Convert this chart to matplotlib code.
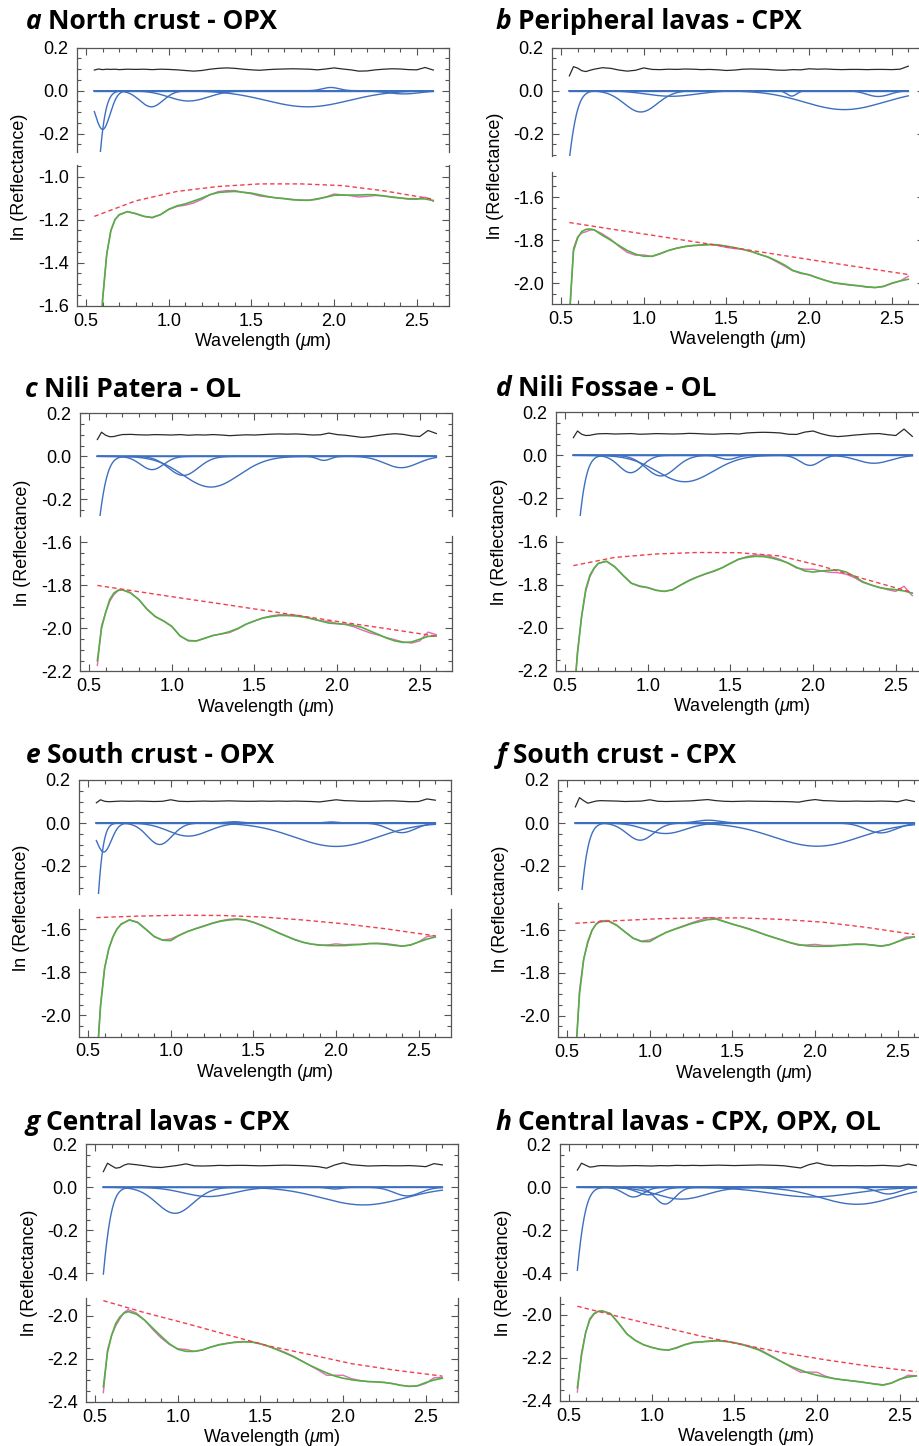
import matplotlib
matplotlib.use("Agg")
import matplotlib.pyplot as plt
import numpy as np
from matplotlib.ticker import MultipleLocator, FuncFormatter

plt.rc('font', family='Liberation Sans')
plt.rc('axes', unicode_minus=False)
plt.rc('mathtext', fontset='custom', rm='Liberation Sans',
       it='Liberation Sans:italic')

# ---------------------------------------------------------------- data
# sampling of the spectra (micrometres)
WL = [0.55, 0.575, 0.6, 0.625, 0.65, 0.675, 0.7, 0.75, 0.8, 0.85, 0.9, 0.95,
      1.0, 1.05, 1.1, 1.15, 1.2, 1.25, 1.3, 1.35, 1.4, 1.45, 1.5, 1.55, 1.6,
      1.65, 1.7, 1.75, 1.8, 1.85, 1.9, 1.95, 2.0, 2.05, 2.1, 2.15, 2.2, 2.25,
      2.3, 2.35, 2.4, 2.45, 2.5, 2.55, 2.6]
CONT_WL = [0.55, 0.8, 1.05, 1.3, 1.55, 1.8, 2.05, 2.3, 2.6]

LETTERS = ["a", "b", "c", "d", "e", "f", "g", "h"]
TITLES = ["North crust - OPX", "Peripheral lavas - CPX", "Nili Patera - OL",
          "Nili Fossae - OL", "South crust - OPX", "South crust - CPX",
          "Central lavas - CPX", "Central lavas - CPX, OPX, OL"]

# modelled spectrum (green), ln(reflectance)
A_MODEL = [-2.3, -1.92, -1.57, -1.36, -1.25, -1.2, -1.177, -1.163, -1.172, -1.185,
           -1.19, -1.177, -1.152, -1.136, -1.127, -1.114, -1.1, -1.084, -1.074,
           -1.071, -1.069, -1.073, -1.077, -1.085, -1.093, -1.099, -1.103, -1.108,
           -1.11, -1.11, -1.103, -1.096, -1.087, -1.086, -1.086, -1.086, -1.084,
           -1.085, -1.09, -1.096, -1.1, -1.103, -1.103, -1.104, -1.111]
B_MODEL = [-2.15, -1.85, -1.79, -1.76, -1.75, -1.748, -1.752, -1.778, -1.8, -1.825,
           -1.848, -1.865, -1.875, -1.875, -1.862, -1.848, -1.837, -1.83, -1.825,
           -1.822, -1.82, -1.822, -1.828, -1.835, -1.843, -1.853, -1.866, -1.878,
           -1.895, -1.915, -1.94, -1.952, -1.962, -1.975, -1.988, -1.998, -2.003,
           -2.008, -2.012, -2.017, -2.02, -2.015, -2.0, -1.99, -1.982]
C_MODEL = [-2.15, -2.0, -1.925, -1.865, -1.835, -1.822, -1.82, -1.835, -1.865, -1.91,
           -1.945, -1.965, -1.99, -2.035, -2.056, -2.058, -2.045, -2.033, -2.025,
           -2.015, -2.0, -1.98, -1.965, -1.952, -1.945, -1.94, -1.94, -1.942, -1.947,
           -1.955, -1.965, -1.975, -1.978, -1.98, -1.985, -1.995, -2.012, -2.028,
           -2.045, -2.058, -2.065, -2.063, -2.05, -2.037, -2.035]
D_MODEL = [-2.35, -2.12, -1.945, -1.82, -1.755, -1.722, -1.7, -1.69, -1.715, -1.755,
           -1.792, -1.805, -1.812, -1.825, -1.83, -1.822, -1.8, -1.78, -1.763, -1.748,
           -1.735, -1.72, -1.7, -1.68, -1.672, -1.667, -1.668, -1.675, -1.685,
           -1.698, -1.718, -1.735, -1.74, -1.735, -1.732, -1.73, -1.74, -1.76, -1.785,
           -1.8, -1.812, -1.818, -1.822, -1.828, -1.838]
E_MODEL = [-2.25, -1.96, -1.78, -1.69, -1.635, -1.598, -1.576, -1.556, -1.568, -1.6,
           -1.633, -1.65, -1.652, -1.628, -1.61, -1.597, -1.585, -1.572, -1.562,
           -1.556, -1.553, -1.556, -1.567, -1.582, -1.598, -1.616, -1.632, -1.648,
           -1.66, -1.668, -1.672, -1.675, -1.675, -1.675, -1.672, -1.67, -1.666,
           -1.666, -1.669, -1.674, -1.678, -1.672, -1.658, -1.645, -1.635]
F_MODEL = [-2.2, -1.9, -1.74, -1.655, -1.603, -1.575, -1.562, -1.56, -1.58, -1.61,
           -1.64, -1.655, -1.655, -1.632, -1.612, -1.598, -1.585, -1.572, -1.562,
           -1.553, -1.55, -1.562, -1.574, -1.585, -1.597, -1.61, -1.624, -1.636,
           -1.648, -1.66, -1.669, -1.675, -1.677, -1.677, -1.676, -1.673, -1.67,
           -1.668, -1.668, -1.672, -1.677, -1.67, -1.655, -1.642, -1.633]
G_MODEL = [-2.33, -2.17, -2.09, -2.035, -2.005, -1.987, -1.98, -1.992, -2.02, -2.058,
           -2.095, -2.13, -2.155, -2.165, -2.165, -2.158, -2.145, -2.135, -2.128,
           -2.123, -2.121, -2.122, -2.13, -2.142, -2.157, -2.173, -2.19, -2.21, -2.23,
           -2.248, -2.265, -2.28, -2.29, -2.297, -2.302, -2.305, -2.307, -2.31,
           -2.315, -2.323, -2.328, -2.325, -2.31, -2.298, -2.29]
H_MODEL = [-2.34, -2.19, -2.085, -2.02, -1.995, -1.985, -1.983, -1.995, -2.04, -2.09,
           -2.12, -2.14, -2.152, -2.162, -2.165, -2.155, -2.14, -2.13, -2.127, -2.124,
           -2.122, -2.125, -2.131, -2.14, -2.152, -2.165, -2.185, -2.205, -2.225,
           -2.243, -2.258, -2.272, -2.282, -2.29, -2.297, -2.303, -2.307, -2.312,
           -2.317, -2.323, -2.328, -2.318, -2.3, -2.29, -2.285]

# residual (black), plotted with its +0.1 offset
A_RESID = [0.096, 0.101, 0.098, 0.1, 0.099, 0.1, 0.098, 0.1, 0.099, 0.1, 0.098, 0.1,
           0.099, 0.097, 0.094, 0.091, 0.094, 0.1, 0.104, 0.106, 0.104, 0.1, 0.097,
           0.095, 0.098, 0.1, 0.101, 0.102, 0.101, 0.1, 0.097, 0.101, 0.106, 0.101,
           0.097, 0.091, 0.092, 0.097, 0.1, 0.102, 0.101, 0.098, 0.097, 0.108, 0.096]
B_RESID = [0.069, 0.112, 0.105, 0.093, 0.089, 0.095, 0.1, 0.107, 0.104, 0.096, 0.091,
           0.095, 0.106, 0.099, 0.098, 0.1, 0.099, 0.101, 0.1, 0.098, 0.099, 0.097,
           0.094, 0.096, 0.1, 0.101, 0.1, 0.099, 0.096, 0.095, 0.098, 0.097, 0.102,
           0.1, 0.101, 0.099, 0.098, 0.099, 0.099, 0.098, 0.099, 0.099, 0.098, 0.1,
           0.114]
C_RESID = [0.078, 0.112, 0.098, 0.091, 0.092, 0.097, 0.101, 0.102, 0.1, 0.099, 0.101,
           0.1, 0.099, 0.101, 0.098, 0.1, 0.099, 0.101, 0.099, 0.096, 0.098, 0.1,
           0.099, 0.101, 0.103, 0.104, 0.103, 0.104, 0.102, 0.099, 0.1, 0.108, 0.101,
           0.098, 0.093, 0.088, 0.091, 0.097, 0.102, 0.105, 0.102, 0.095, 0.092,
           0.12, 0.106]
D_RESID = [0.082, 0.113, 0.098, 0.092, 0.093, 0.097, 0.1, 0.101, 0.099, 0.1, 0.101,
           0.098, 0.099, 0.101, 0.1, 0.099, 0.1, 0.102, 0.101, 0.099, 0.098, 0.1,
           0.101, 0.099, 0.104, 0.106, 0.107, 0.106, 0.104, 0.098, 0.097, 0.108,
           0.113, 0.1, 0.091, 0.087, 0.09, 0.094, 0.097, 0.1, 0.101, 0.096, 0.092,
           0.122, 0.088]
E_RESID = [0.094, 0.108, 0.101, 0.099, 0.1, 0.101, 0.102, 0.101, 0.102, 0.101, 0.1,
           0.101, 0.108, 0.101, 0.1, 0.101, 0.102, 0.101, 0.102, 0.103, 0.102, 0.101,
           0.101, 0.102, 0.101, 0.102, 0.101, 0.102, 0.101, 0.1, 0.098, 0.103, 0.108,
           0.104, 0.103, 0.101, 0.101, 0.102, 0.103, 0.103, 0.101, 0.099, 0.1, 0.112,
           0.106]
F_RESID = [0.075, 0.118, 0.104, 0.092, 0.097, 0.102, 0.104, 0.103, 0.102, 0.1, 0.101,
           0.102, 0.108, 0.101, 0.1, 0.101, 0.102, 0.103, 0.106, 0.109, 0.104, 0.101,
           0.1, 0.101, 0.102, 0.101, 0.101, 0.1, 0.1, 0.099, 0.097, 0.104, 0.109,
           0.104, 0.103, 0.101, 0.101, 0.102, 0.101, 0.101, 0.102, 0.101, 0.099,
           0.108, 0.1]
G_RESID = [0.073, 0.112, 0.1, 0.089, 0.092, 0.103, 0.109, 0.105, 0.1, 0.094, 0.092,
           0.097, 0.102, 0.109, 0.1, 0.099, 0.1, 0.102, 0.101, 0.102, 0.102, 0.101,
           0.1, 0.101, 0.102, 0.103, 0.102, 0.101, 0.099, 0.096, 0.089, 0.104, 0.114,
           0.105, 0.102, 0.099, 0.1, 0.101, 0.1, 0.1, 0.101, 0.099, 0.096, 0.11,
           0.104]
H_RESID = [0.08, 0.112, 0.103, 0.094, 0.096, 0.1, 0.101, 0.1, 0.099, 0.1, 0.101, 0.1,
           0.099, 0.101, 0.1, 0.102, 0.101, 0.102, 0.101, 0.102, 0.103, 0.102, 0.101,
           0.102, 0.103, 0.104, 0.103, 0.102, 0.1, 0.095, 0.09, 0.105, 0.114, 0.104,
           0.1, 0.101, 0.1, 0.101, 0.1, 0.101, 0.102, 0.1, 0.098, 0.108, 0.101]

# continuum (red dashed) at CONT_WL
A_CONT = [-1.185, -1.113, -1.069, -1.046, -1.034, -1.034, -1.042, -1.066, -1.105]
B_CONT = [-1.718, -1.748, -1.777, -1.807, -1.836, -1.866, -1.896, -1.925, -1.96]
C_CONT = [-1.8, -1.829, -1.858, -1.886, -1.915, -1.944, -1.973, -2.001, -2.036]
D_CONT = [-1.71, -1.672, -1.656, -1.649, -1.65, -1.665, -1.712, -1.77, -1.835]
E_CONT = [-1.545, -1.538, -1.534, -1.535, -1.542, -1.556, -1.574, -1.597, -1.63]
F_CONT = [-1.57, -1.558, -1.549, -1.545, -1.545, -1.552, -1.565, -1.588, -1.622]
G_CONT = [-1.929, -1.985, -2.035, -2.088, -2.14, -2.18, -2.222, -2.251, -2.28]
H_CONT = [-1.961, -2.009, -2.055, -2.1, -2.14, -2.178, -2.21, -2.238, -2.265]

# absorption bands (blue): centre, width (sigma), strength
A_BAND_C = [0.45, 0.6, 0.895, 1.12, 1.84, 1.98, 2.42]
A_BAND_W = [0.0668, 0.045, 0.07, 0.12, 0.25, 0.05, 0.1]
A_BAND_S = [-2.3, -0.18, -0.075, -0.048, -0.075, 0.015, -0.015]
B_BAND_C = [0.45, 0.982, 1.167, 1.895, 2.213, 2.418]
B_BAND_W = [0.07, 0.1, 0.15, 0.03, 0.24, 0.07]
B_BAND_S = [-0.88, -0.099, -0.026, -0.025, -0.088, -0.027]
C_BAND_C = [0.46, 0.881, 1.07, 1.237, 1.92, 2.388]
C_BAND_W = [0.07, 0.07, 0.09, 0.17, 0.04, 0.1]
C_BAND_S = [-0.87, -0.062, -0.089, -0.143, -0.019, -0.053]
D_BAND_C = [0.47, 0.896, 1.079, 1.225, 1.485, 1.982, 2.368]
D_BAND_W = [0.07, 0.07, 0.09, 0.17, 0.05, 0.06, 0.1]
D_BAND_S = [-1.26, -0.081, -0.096, -0.123, -0.019, -0.047, -0.037]
E_BAND_C = [0.46, 0.595, 0.933, 1.106, 1.38, 1.97, 2.0, 2.398]
E_BAND_W = [0.055, 0.045, 0.075, 0.12, 0.05, 0.04, 0.25, 0.08]
E_BAND_S = [-1.89, -0.135, -0.1, -0.061, 0.006, 0.005, -0.109, -0.045]
F_BAND_C = [0.47, 0.942, 1.095, 1.355, 2.011, 2.398]
F_BAND_W = [0.07, 0.08, 0.12, 0.07, 0.26, 0.09]
F_BAND_S = [-1.36, -0.08, -0.049, 0.013, -0.108, -0.046]
G_BAND_C = [0.45, 0.983, 1.186, 1.95, 2.123, 2.388]
G_BAND_W = [0.07, 0.11, 0.15, 0.04, 0.25, 0.08]
G_BAND_S = [-1.12, -0.121, -0.043, -0.008, -0.082, -0.04]
H_BAND_C = [0.45, 0.89, 0.98, 1.08, 1.18, 1.97, 2.24, 2.43]
H_BAND_W = [0.07, 0.06, 0.07, 0.06, 0.15, 0.25, 0.22, 0.07]
H_BAND_S = [-1.07, -0.045, -0.035, -0.078, -0.055, -0.045, -0.079, -0.031]

MODELS = [A_MODEL, B_MODEL, C_MODEL, D_MODEL, E_MODEL, F_MODEL, G_MODEL, H_MODEL]
RESIDS = [A_RESID, B_RESID, C_RESID, D_RESID, E_RESID, F_RESID, G_RESID, H_RESID]
CONTS = [A_CONT, B_CONT, C_CONT, D_CONT, E_CONT, F_CONT, G_CONT, H_CONT]
BANDS = [(A_BAND_C, A_BAND_W, A_BAND_S), (B_BAND_C, B_BAND_W, B_BAND_S),
         (C_BAND_C, C_BAND_W, C_BAND_S), (D_BAND_C, D_BAND_W, D_BAND_S),
         (E_BAND_C, E_BAND_W, E_BAND_S), (F_BAND_C, F_BAND_W, F_BAND_S),
         (G_BAND_C, G_BAND_W, G_BAND_S), (H_BAND_C, H_BAND_W, H_BAND_S)]

# ---------------------------------------------------------------- layout
W, H = 919, 1446
PANEL_W = 372          # frame width in px
PPU = 215              # px per unit of ln(reflectance)
XLIM = (0.445, 2.695)

# left px, top px, gap between the two halves px
LAYOUT = [(77, 47.7, 13), (552, 47.7, 15.5),
          (80, 413.3, 19.5), (556, 412.3, 20),
          (79, 780, 15.5), (558, 780, 13),
          (86, 1144.3, 18.3), (560, 1144.3, 17.7)]
TOP_YLIM = [(-0.285, 0.2), (-0.305, 0.2), (-0.279, 0.2), (-0.283, 0.2),
            (-0.328, 0.2), (-0.313, 0.2), (-0.431, 0.2), (-0.43, 0.2)]
BOT_YLIM = [(-1.6, -0.946), (-2.097, -1.482), (-2.2, -1.569), (-2.2, -1.573),
            (-2.098, -1.505), (-2.1, -1.477), (-2.4, -1.918), (-2.4, -1.92)]
# title letter x px, baseline px
TITLE_POS = [(25.7, 29.3), (496, 29.3), (25, 396.7), (496, 396),
             (26, 762.7), (496.7, 762.7), (25, 1130), (496, 1130)]

BLUE = '#3d6fc0'
GREEN = '#52b043'
MAGENTA = '#e468b8'
RED = '#f0404e'
BLACK = '#2a2a2a'
FRAME = '#555555'
TICK_SIZE = 13
TITLE_FONT = 'Open Sans'
TITLE_SIZE = 19


def box(left, top, width, height):
    return [left / W, 1 - (top + height) / H, width / W, height / H]


def fmt(v, pos):
    return "{:.1f}".format(v).replace("-0.0", "0.0")


def style_axis(ax, top_half):
    for sp in ax.spines.values():
        sp.set_color(FRAME)
        sp.set_linewidth(0.9)
    if top_half:
        ax.spines['bottom'].set_visible(False)
    else:
        ax.spines['top'].set_visible(False)
    ax.set_xlim(*XLIM)
    ax.xaxis.set_major_locator(MultipleLocator(0.5))
    ax.xaxis.set_minor_locator(MultipleLocator(0.1))
    ax.yaxis.set_major_locator(MultipleLocator(0.2))
    ax.yaxis.set_minor_locator(MultipleLocator(0.05))
    ax.xaxis.set_major_formatter(FuncFormatter(fmt))
    ax.yaxis.set_major_formatter(FuncFormatter(fmt))
    ax.tick_params(which='both', direction='in', color=FRAME, width=0.8,
                   left=True, right=True, top=top_half, bottom=not top_half,
                   labelbottom=not top_half, labeltop=False,
                   labelsize=TICK_SIZE)
    ax.tick_params(which='major', length=5)
    ax.tick_params(which='minor', length=2.6)
    ax.tick_params(axis='y', pad=6)
    ax.tick_params(axis='x', pad=5)


fig = plt.figure(figsize=(W / 100, H / 100), dpi=100)
wl = np.array(WL)
fine = np.linspace(WL[0], WL[-1], 600)

for i in range(8):
    left, top, gap = LAYOUT[i]
    t_lo, t_hi = TOP_YLIM[i]
    b_lo, b_hi = BOT_YLIM[i]
    top_h = (t_hi - t_lo) * PPU
    bot_h = (b_hi - b_lo) * PPU

    ax_t = fig.add_axes(box(left, top, PANEL_W, top_h))
    ax_b = fig.add_axes(box(left, top + top_h + gap, PANEL_W, bot_h))

    # upper half: residual and the individual bands
    centres, widths, strengths = BANDS[i]
    ax_t.plot([WL[0], WL[-1]], [0, 0], color=BLUE, lw=1.0)
    for c, w, s in zip(centres, widths, strengths):
        ax_t.plot(fine, s * np.exp(-(fine - c) ** 2 / (2 * w ** 2)),
                  color=BLUE, lw=1.0)
    ax_t.plot(wl, RESIDS[i], color=BLACK, lw=0.9)
    ax_t.set_ylim(t_lo, t_hi)
    style_axis(ax_t, True)

    # lower half: measured spectrum, model, continuum
    model = np.array(MODELS[i])
    measured = model + (np.array(RESIDS[i]) - 0.1)
    ax_b.plot(wl, measured, color=MAGENTA, lw=1.0)
    ax_b.plot(wl, model, color=GREEN, lw=1.2)
    ax_b.plot(CONT_WL, CONTS[i], color=RED, lw=1.0, dashes=(3.2, 2.2))
    ax_b.set_ylim(b_lo, b_hi)
    style_axis(ax_b, False)
    ax_b.set_xlabel(r"Wavelength ($\mu$m)", fontsize=TICK_SIZE, labelpad=1)

    # y label centred on the whole panel
    bottom = top + top_h + gap + bot_h
    fig.text((left - 57) / W, 1 - (top + bottom) / 2 / H, "ln (Reflectance)",
             rotation=90, ha='center', va='center', fontsize=TICK_SIZE)

    # title: italic letter followed by bold name
    tx, ty = TITLE_POS[i]
    letter = fig.text(tx / W, 1 - ty / H, LETTERS[i], fontsize=TITLE_SIZE,
                      family=TITLE_FONT, weight='bold', style='italic',
                      va='baseline')
    plt.annotate(TITLES[i], xy=(1, 0), xycoords=letter, xytext=(4.5, 0),
                 textcoords='offset points', fontsize=TITLE_SIZE,
                 family=TITLE_FONT, weight='bold', va='bottom', ha='left')

fig.savefig("out.png", dpi=100)
